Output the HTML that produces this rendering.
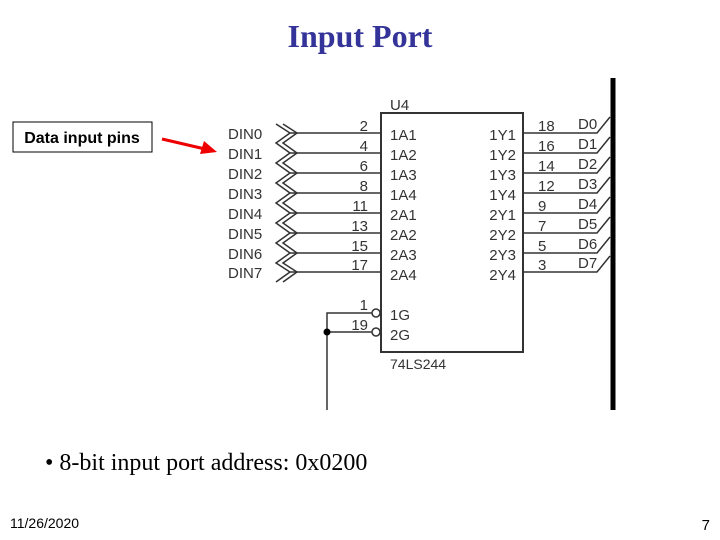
<!DOCTYPE html>
<html><head><style>
body{margin:0;width:720px;height:540px;background:#fff;overflow:hidden;position:relative;font-family:"Liberation Sans",sans-serif}
.t{position:absolute;left:0;width:720px;top:18px;text-align:center;font:bold 32px "Liberation Serif",serif;color:#333399}
</style></head><body>
<div class="t">Input Port</div>
<svg width="720" height="540" style="position:absolute;left:0;top:0" font-family="Liberation Sans, sans-serif">
<rect x="13" y="122" width="139" height="30" fill="#fff" stroke="#000" stroke-width="1"/>
<text x="82" y="143" font-size="16" font-weight="bold" text-anchor="middle">Data input pins</text>
<line x1="162" y1="139" x2="205" y2="149" stroke="#e00" stroke-width="3"/>
<polygon points="217,152 200,154 204,141" fill="#e00"/>
<rect x="381" y="113" width="142" height="239" fill="none" stroke="#333" stroke-width="2"/>
<text x="390" y="110" font-size="15" fill="#333">U4</text>
<g stroke="#333" stroke-width="1.5" fill="none">
<line x1="290" y1="133" x2="381" y2="133"/><line x1="290" y1="153" x2="381" y2="153"/>
<line x1="290" y1="173" x2="381" y2="173"/><line x1="290" y1="193" x2="381" y2="193"/>
<line x1="290" y1="213" x2="381" y2="213"/><line x1="290" y1="233" x2="381" y2="233"/>
<line x1="290" y1="253" x2="381" y2="253"/><line x1="290" y1="272" x2="381" y2="272"/>
<polyline points="276,124 290,133 276,143 290,153 276,163 290,173 276,183 290,193 276,203 290,213 276,223 290,233 276,243 290,253 276,263 290,272 276,282"/>
<polyline points="283,124 297,133 283,143 297,153 283,163 297,173 283,183 297,193 283,203 297,213 283,223 297,233 283,243 297,253 283,263 297,272 283,282"/>
<polyline points="523,133 597,133 610,117"/><polyline points="523,153 597,153 610,137"/>
<polyline points="523,173 597,173 610,157"/><polyline points="523,193 597,193 610,177"/>
<polyline points="523,213 597,213 610,197"/><polyline points="523,233 597,233 610,217"/>
<polyline points="523,253 597,253 610,237"/><polyline points="523,272 597,272 610,256"/>
<polyline points="372,313 327,313 327,410"/><line x1="327" y1="332" x2="372" y2="332"/>
<circle cx="376" cy="313" r="4"/><circle cx="376" cy="332" r="4"/>
</g>
<circle cx="327" cy="332" r="3.5" fill="#000"/>
<line x1="613" y1="78" x2="613" y2="410" stroke="#000" stroke-width="5"/>
<g font-size="15" fill="#333">
<text x="228" y="139">DIN0</text><text x="228" y="159">DIN1</text><text x="228" y="179">DIN2</text><text x="228" y="199">DIN3</text>
<text x="228" y="219">DIN4</text><text x="228" y="239">DIN5</text><text x="228" y="259">DIN6</text><text x="228" y="278">DIN7</text>
<g text-anchor="end"><text x="368" y="131">2</text><text x="368" y="151">4</text><text x="368" y="171">6</text><text x="368" y="191">8</text>
<text x="368" y="211">11</text><text x="368" y="231">13</text><text x="368" y="251">15</text><text x="368" y="270">17</text>
<text x="368" y="310">1</text><text x="368" y="330">19</text>
<text x="516" y="140">1Y1</text><text x="516" y="160">1Y2</text><text x="516" y="180">1Y3</text><text x="516" y="200">1Y4</text>
<text x="516" y="220">2Y1</text><text x="516" y="240">2Y2</text><text x="516" y="260">2Y3</text><text x="516" y="280">2Y4</text></g>
<text x="390" y="140">1A1</text><text x="390" y="160">1A2</text><text x="390" y="180">1A3</text><text x="390" y="200">1A4</text>
<text x="390" y="220">2A1</text><text x="390" y="240">2A2</text><text x="390" y="260">2A3</text><text x="390" y="280">2A4</text>
<text x="390" y="320">1G</text><text x="390" y="340">2G</text>
<text x="390" y="369" font-size="14">74LS244</text>
<text x="538" y="131">18</text><text x="538" y="151">16</text><text x="538" y="171">14</text><text x="538" y="191">12</text>
<text x="538" y="211">9</text><text x="538" y="231">7</text><text x="538" y="251">5</text><text x="538" y="270">3</text>
<text x="578" y="129">D0</text><text x="578" y="149">D1</text><text x="578" y="169">D2</text><text x="578" y="189">D3</text>
<text x="578" y="209">D4</text><text x="578" y="229">D5</text><text x="578" y="249">D6</text><text x="578" y="268">D7</text>
</g>
<text x="45" y="470" font-size="24" font-family="Liberation Serif, serif">•  8-bit input port address: 0x0200</text>
<text x="10" y="528" font-size="14">11/26/2020</text>
<text x="710" y="530" font-size="15" text-anchor="end">7</text>
</svg>
</body></html>
